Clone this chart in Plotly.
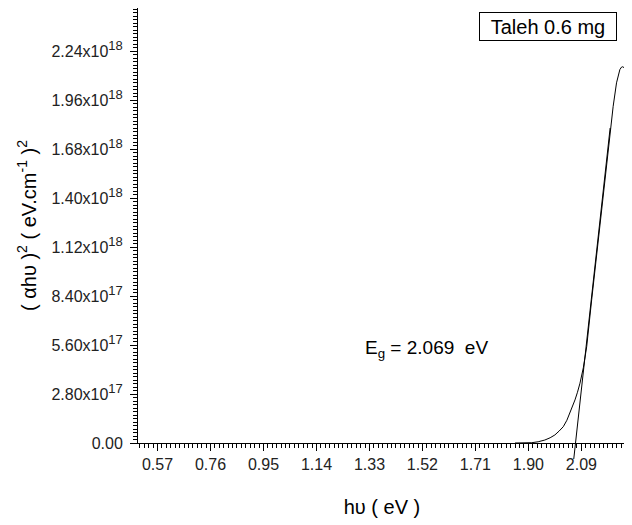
import plotly.graph_objects as go

# ---- data ----
hv = [1.852, 1.870, 1.885, 1.900, 1.912, 1.935, 1.959, 1.978, 1.995, 2.010, 2.025,
      2.038, 2.049, 2.058, 2.067, 2.076, 2.085, 2.097, 2.109, 2.127, 2.146, 2.167,
      2.183, 2.192, 2.204, 2.216, 2.228, 2.234, 2.238, 2.243]
ahv2 = [0.0, 0.0, 0.0, 0.0, 1.7e15, 7.0e15, 1.7e16, 3.0e16, 4.6e16, 6.8e16, 9.3e16,
        1.3e17, 1.7e17, 2.05e17, 2.46e17, 2.9e17, 3.42e17, 4.3e17, 5.5e17, 8.2e17,
        1.10e18, 1.39e18, 1.638e18, 1.772e18, 1.924e18, 2.058e18, 2.134e18, 2.148e18,
        2.150e18, 2.145e18]

eg = 2.069                 # band gap (x-intercept of the tangent)
tangent_slope = 1.45e19    # (eV.cm^-1)^2 per eV
tangent_y = [-1.0e17, 1.8e18]

legend_label = "Taleh 0.6 mg"

y_tickvals = [0, 2.8e17, 5.6e17, 8.4e17, 1.12e18, 1.40e18, 1.68e18, 1.96e18, 2.24e18]
y_mant = ["0.00", "2.80", "5.60", "8.40", "1.12", "1.40", "1.68", "1.96", "2.24"]
y_exp = [None, 17, 17, 17, 18, 18, 18, 18, 18]
x_tickvals = [0.57, 0.76, 0.95, 1.14, 1.33, 1.52, 1.71, 1.90, 2.09]
x_ticktext = ["0.57", "0.76", "0.95", "1.14", "1.33", "1.52", "1.71", "1.90", "2.09"]

y_ticktext = [m if e is None else f"{m}x10<sup><span style='font-size:13px'>{e}</span></sup>"
              for m, e in zip(y_mant, y_exp)]

FONT = "Arial, 'Liberation Sans', sans-serif"

fig = go.Figure()
fig.add_trace(go.Scatter(x=hv, y=ahv2, mode="lines",
                         line=dict(color="black", width=1), showlegend=False,
                         hoverinfo="skip"))

# tangent line (drawn as annotation arrow so it may extend below the axis)
tx = [eg + y / tangent_slope for y in tangent_y]
fig.add_annotation(x=tx[1], y=tangent_y[1], ax=tx[0], ay=tangent_y[0],
                   xref="x", yref="y", axref="x", ayref="y",
                   showarrow=True, arrowhead=0, arrowwidth=1, arrowcolor="black",
                   standoff=0, startstandoff=0, text="")

fig.add_annotation(x=1.535, y=5.4e17, xref="x", yref="y",
                   text="E<sub>g</sub> = 2.069\u00a0 eV", showarrow=False,
                   font=dict(family=FONT, size=19, color="black"))

fig.add_annotation(x=0.9816, y=0.991, xref="paper", yref="paper",
                   xanchor="right", yanchor="top",
                   text=legend_label, showarrow=False,
                   width=134, height=25, align="center",
                   bordercolor="black", borderwidth=1, borderpad=1,
                   bgcolor="white",
                   font=dict(family=FONT, size=20, color="black"))

fig.update_xaxes(range=[0.5, 2.25], tickvals=x_tickvals, ticktext=x_ticktext,
                 ticks="outside", ticklen=7, tickcolor="black",
                 showline=True, linecolor="black", linewidth=1, mirror=True,
                 showgrid=False, zeroline=False,
                 minor=dict(ticks="outside", ticklen=4, tickcolor="black",
                            tick0=0.57, dtick=0.19 / 12, showgrid=False),
                 tickfont=dict(family=FONT, size=16, color="#222"),
                 title=dict(text="h\u03c5 ( eV )", standoff=27,
                            font=dict(family=FONT, size=20, color="black")))
fig.update_yaxes(range=[0, 2.4857e18], tickvals=y_tickvals, ticktext=y_ticktext,
                 ticks="outside", ticklen=7, tickcolor="black",
                 showline=True, linecolor="black", linewidth=1, mirror=True,
                 showgrid=False, zeroline=False, ticklabelstandoff=4,
                 minor=dict(ticks="outside", ticklen=4, tickcolor="black",
                            tick0=0, dtick=2e16, showgrid=False),
                 tickfont=dict(family=FONT, size=16, color="#222"),
                 title=dict(text="( \u03b1h\u03c5 )<sup>2</sup> ( eV.cm<sup>-1</sup> )<sup>2</sup>",
                            standoff=9,
                            font=dict(family=FONT, size=20, color="black")))

fig.update_layout(width=624, height=517,
                  margin=dict(l=130, r=6, t=0, b=82),
                  plot_bgcolor="white", paper_bgcolor="white",
                  showlegend=False)

fig.write_html("out.html")
